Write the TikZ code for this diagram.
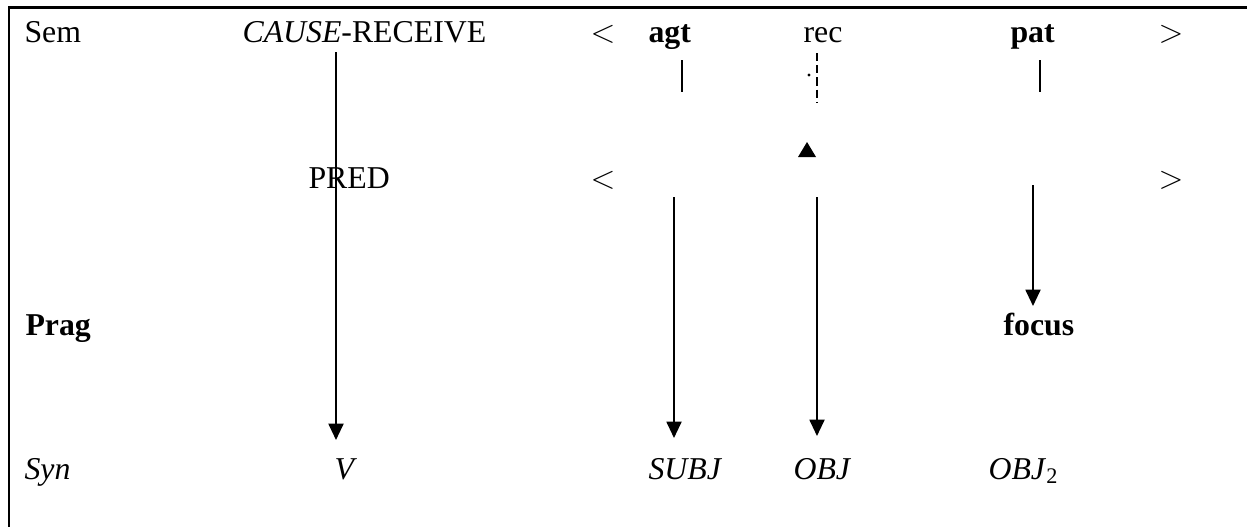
\documentclass[tikz,border=0pt]{standalone}
\usepackage{fontspec}
\setmainfont{Liberation Serif}
\usetikzlibrary{arrows.meta}
\newcommand{\lbl}[3]{\node[anchor=base west] (#1) at (#2) {#3}}

\begin{document}
\begin{tikzpicture}[x=0.368pt,y=-0.368pt,
    every node/.style={inner sep=0pt,font=\fontsize{11.7pt}{14pt}\selectfont},
    arr/.style={line width=0.75pt,-{Triangle[width=5.5pt,length=6pt]}},
    tick/.style={line width=0.75pt}]
    \useasboundingbox (0,0) rectangle (1247,527);
    \draw[line width=1.1pt] (1247,7.5) -- (9,7.5) -- (9,527);

    % Sem
    \lbl{sem}{24,42}{Sem};
    \lbl{cause}{242,42}{\textit{CAUSE}-RECEIVE};
    \lbl{ltsem}{590,42}{$<$};
    \lbl{agt}{648,42}{\textbf{agt}};
    \lbl{rec}{803,42}{rec};
    \lbl{pat}{1010,42}{\textbf{pat}};
    \lbl{gtsem}{1158,42}{$>$};

    % PRED
    \lbl{pred}{308,188}{PRED};
    \lbl{ltpred}{590,188}{$<$};
    \lbl{gtpred}{1158,188}{$>$};

    % Prag
    \lbl{prag}{25,335}{\textbf{Prag}};
    \lbl{focus}{1003,335}{\textbf{focus}};

    % Syn
    \lbl{syn}{24,479}{\textit{Syn}};
    \lbl{v}{334,479}{\textit{V}};
    \lbl{subj}{648,479}{\textit{SUBJ}};
    \lbl{obj}{793,479}{\textit{OBJ}};
    \lbl{objtwo}{988,479}{\textit{OBJ}\textsubscript{2}};

    \coordinate (vtop) at (336,52);
    \coordinate (vend) at (336,440);
    \coordinate (agttop) at (682,60);
    \coordinate (agtend) at (682,92);
    \coordinate (rectop) at (817,53);
    \coordinate (recend) at (817,102);
    \coordinate (pattop) at (1040,60);
    \coordinate (patend) at (1040,92);
    \coordinate (subjtop) at (674,197);
    \coordinate (subjend) at (674,438);
    \coordinate (objtop) at (817,197);
    \coordinate (objend) at (817,436);
    \coordinate (foctop) at (1033,185);
    \coordinate (focend) at (1033,306);

    \draw[arr] (vtop) -- (vend);
    \draw[tick] (agttop) -- (agtend);
    \draw[line width=0.55pt,dash pattern=on 3pt off 1.5pt] (rectop) -- (recend);
    \fill (809,75) circle (0.6pt);
    \draw[tick] (pattop) -- (patend);
    \fill (807,142) -- (798,157) -- (816,157) -- cycle;
    \draw[arr] (subjtop) -- (subjend);
    \draw[arr] (objtop) -- (objend);
    \draw[arr] (foctop) -- (focend);
\end{tikzpicture}
\end{document}
